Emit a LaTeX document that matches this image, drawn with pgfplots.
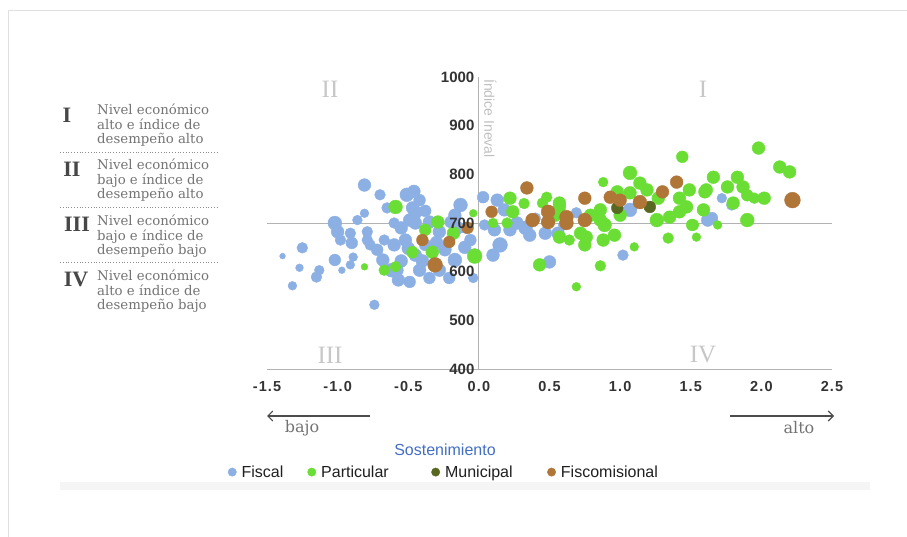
\documentclass[border=0pt]{standalone}
\usepackage{fontspec}
\setmainfont{Liberation Sans}
\newfontfamily\slab{DejaVu Serif}
\newfontfamily\tserif{Liberation Serif}
\newfontfamily\tickfont[LetterSpace=8]{Liberation Sans}
\usepackage{pgfplots}
\usepackage{pgfplotstable}
\pgfplotsset{compat=1.18}
\usetikzlibrary{arrows.meta}
\definecolor{fiscal}{RGB}{140,176,228}
\definecolor{particular}{RGB}{106,222,52}
\definecolor{municipal}{RGB}{88,104,32}
\definecolor{fiscom}{RGB}{176,118,56}
\definecolor{sostblue}{RGB}{66,110,196}

\pgfplotstableread{
x y r
-1.39 632 2.5
-1.32 571 4
-1.27 608 3.5
-1.25 649 5
-1.13 603 4.5
-1.15 589 5
-1.02 624 5.5
-0.89 630 4
-0.91 614 4
-0.97 603 3
-1.02 700 6.5
-1.00 682 6
-0.91 679 5
-0.79 682 5
-0.98 665 5
-0.90 659 5.5
-0.79 665 5
-0.81 778 6
-0.81 720 4
-0.86 706 4.5
-0.70 758 5
-0.65 731 5
-0.74 532 4.5
-0.72 645 5.5
-0.68 624 6
-0.58 603 6
-0.51 758 6.5
-0.47 731 6
-0.49 706 6
-0.42 747 5.5
-0.52 665 6
-0.45 634 6
-0.42 603 6
-0.38 655 5.5
-0.60 655 6
-0.67 665 5
-0.77 655 5
-0.62 603 6.5
-0.57 583 6
-0.49 579 5.5
-0.28 682 6
-0.24 645 6
-0.17 716 6
-0.13 737 6.5
-0.17 624 6.5
-0.21 587 5.5
-0.06 665 5.5
-0.10 690 5
-0.03 634 6
-0.28 603 6
-0.35 587 5.5
-0.04 587 4.5
-0.55 690 6
-0.45 700 6
-0.45 722 6.5
-0.35 702 6
-0.30 660 6
-0.40 622 6
-0.50 648 6
-0.15 690 6
-0.10 650 6
-0.20 702 5.5
-0.55 622 6
-0.60 700 5
-0.46 765 6
-0.38 725 5.5
0.03 753 5.5
0.13 747 6
0.18 727 6
0.04 696 5
0.11 686 6
0.22 686 6
0.33 690 6.5
0.36 675 6
0.47 679 6
0.56 679 6
0.15 655 7
0.10 634 6
0.50 620 6
0.69 721 5
0.74 651 2.5
1.02 634 5
1.07 727 6.5
1.62 706 6
1.72 751 4.5
1.79 737 5
1.65 710 5.5
0.40 710 5
0.27 700 6
0.60 696 5
}\fiscaldata

\pgfplotstableread{
x y r
-0.81 610 3
-0.67 603 5
-0.59 610 5
-0.59 733 6.5
-0.47 640 5.5
-0.38 686 5.5
-0.29 702 6
-0.33 640 6
-0.18 679 6
-0.03 632 7
-0.04 720 3.5
0.22 751 6
0.24 723 6
0.20 700 5
0.32 740 5
0.10 700 4.5
0.45 741 5
0.48 753 5
0.57 741 6
0.57 733 6
0.57 671 6
0.72 679 6
0.76 671 6
0.43 614 6
0.69 569 4
0.79 716 6
0.89 696 6.5
0.96 675 6
0.75 655 6
1.00 716 6
0.64 665 5
0.54 716 6
0.86 727 6
0.86 706 6
0.88 665 6
0.86 612 5
0.88 784 4.5
0.98 764 6
1.07 803 6.5
1.07 762 6
1.14 782 6
1.19 768 6
1.27 751 6
1.42 751 6
1.44 836 5.5
1.49 768 6
1.61 768 6
1.26 706 6.5
1.35 712 6
1.42 723 6
1.47 733 6
1.51 696 5.5
1.54 671 4
1.34 669 5
1.10 651 4
1.98 854 6
2.13 815 6
2.20 805 6
1.66 794 6
1.83 794 6
1.87 774 6
1.76 774 6
1.60 764 6
1.90 757 5.5
2.02 751 6
1.95 751 5
1.59 727 6
1.80 741 6
1.90 706 6.5
1.52 696 5
1.69 696 4
}\particulardata

\pgfplotstableread{
x y r
0.98 731 5.5
1.21 733 5.5
}\municipaldata

\pgfplotstableread{
x y r
-0.40 665 5.5
-0.31 614 7
-0.21 661 5.5
-0.08 690 5.5
0.09 723 5.5
0.34 772 6
0.38 706 6.5
0.49 723 6.5
0.49 702 6.5
0.62 712 6.5
0.62 700 6.5
0.75 751 6
0.75 706 6.5
0.93 753 6
1.00 747 6
1.14 743 6.5
1.30 764 6
1.40 784 6
2.22 747 7.5
}\fiscomdata

\pgfplotsset{
  bubble/.style={scatter, only marks, mark=*,
    scatter/use mapped color={draw=#1, fill=#1},
    mark options={draw=#1, fill=#1},
    visualization depends on={(\thisrow{r}+0.4)\as\rad},
    scatter/@pre marker code/.append style={/tikz/mark size=\rad},
    legend image code/.code={\fill[#1] (4.5pt,0pt) circle (4.2pt);}},
  baseaxis/.style={
    at={(267pt,-369pt)}, anchor=south west,
    width=565pt, height=292pt, scale only axis,
    xmin=-1.5, xmax=2.5, ymin=400, ymax=1000,
    axis x line*=bottom, axis y line*=middle,
    hide obscured x ticks=false, hide obscured y ticks=false,
    xtick={-1.5,-1,-0.5,0,0.5,1,1.5,2,2.5},
    ytick={400,500,600,700,800,900,1000},
    major tick length=0pt,
    scaled x ticks=false, scaled y ticks=false,
    /pgf/number format/assume math mode=true,
    /pgf/number format/1000 sep={},
    xticklabel={\pgfmathprintnumber[fixed,fixed zerofill,precision=1]{\tick}},
    xticklabel style={font=\tickfont\bfseries\fontsize{14.5}{15}\selectfont, text=black!80, yshift=-9pt},
    yticklabel style={font=\bfseries\fontsize{15}{15}\selectfont, text=black!80, xshift=-1pt},
    clip=false},
}

\begin{document}
\begin{tikzpicture}
\path[use as bounding box] (0pt,0pt) rectangle (907pt,-537pt);
\begin{scope}[x=1pt,y=-1pt]
  \draw[black!12, line width=0.8pt] (8,537) -- (8,10) -- (907,10);
  \fill[black!4] (60,482) rectangle (870,490);
\end{scope}
\begin{axis}[baseaxis,
  axis line style={draw=black!30, line width=0.9pt},
  xticklabel style={opacity=0}, yticklabel style={opacity=0},
  legend columns=4,
  legend style={at={(-0.0697,-0.353)}, anchor=west, draw=none, fill=none,
    font=\fontsize{16}{16}\selectfont, text=black!88,
    /tikz/column 1/.style={column sep=3pt},
    /tikz/column 3/.style={column sep=3pt},
    /tikz/column 5/.style={column sep=3pt},
    /tikz/column 7/.style={column sep=3pt},
    /tikz/column 2/.style={column sep=22pt},
    /tikz/column 4/.style={column sep=40.5pt},
    /tikz/column 6/.style={column sep=32.5pt},
    inner sep=0pt},
]
\addplot[black!30, line width=0.9pt, forget plot] coordinates {(-1.5,700) (2.5,700)};
\addplot[bubble=fiscal] table[x=x,y=y]{\fiscaldata};
\addlegendentry{Fiscal}
\addplot[bubble=particular] table[x=x,y=y]{\particulardata};
\addlegendentry{Particular}
\addplot[bubble=municipal] table[x=x,y=y]{\municipaldata};
\addlegendentry{Municipal}
\addplot[bubble=fiscom] table[x=x,y=y]{\fiscomdata};
\addlegendentry{Fiscomisional}
\end{axis}
\begin{axis}[baseaxis, axis line style={draw=none}]
\end{axis}
\begin{scope}[x=1pt,y=-1pt]
  % quadrant labels
  \node[font=\tserif\fontsize{25}{25}\selectfont, text=black!22] at (330,89) {II};
  \node[font=\tserif\fontsize{25}{25}\selectfont, text=black!22] at (703,89) {I};
  \node[font=\tserif\fontsize{25}{25}\selectfont, text=black!22] at (330,355) {III};
  \node[font=\tserif\fontsize{25}{25}\selectfont, text=black!22] at (703,355) {IV};
  % axis title
  \node[rotate=-90, anchor=south west, font=\fontsize{14}{14}\selectfont, text=black!25, inner sep=1pt] at (483,78) {Índice Ineval};
  % arrows
  \draw[black!70, line width=1.1pt, -{Straight Barb[length=5pt,width=10pt]}] (370,416) -- (267,416);
  \draw[black!70, line width=1.1pt, -{Straight Barb[length=5pt,width=10pt]}] (730,416) -- (834,416);
  \node[font=\slab\fontsize{16}{16}\selectfont, text=black!55] at (302,428) {bajo};
  \node[font=\slab\fontsize{16}{16}\selectfont, text=black!55] at (799,428) {alto};
  \node[font=\fontsize{16}{16}\selectfont, text=sostblue] at (445,450) {Sostenimiento};
  % left key
  \foreach \yy in {152,207,262} {\draw[black!45, dotted, line width=0.8pt] (60,\yy) -- (218,\yy);}
  \node[font=\tserif\bfseries\fontsize{22}{22}\selectfont, text=black!72] at (67,115) {I};
  \node[font=\tserif\bfseries\fontsize{22}{22}\selectfont, text=black!72] at (72,169) {II};
  \node[font=\tserif\bfseries\fontsize{22}{22}\selectfont, text=black!72] at (77,224) {III};
  \node[font=\tserif\bfseries\fontsize{22}{22}\selectfont, text=black!72] at (76,279) {IV};
  \foreach \yy/\ta/\tc in {104/alto/{desempeño alto},159/bajo/{desempeño alto},215/bajo/{desempeño bajo},270/alto/{desempeño bajo}} {
    \node[anchor=north west, inner sep=0pt, align=left, font=\slab\fontsize{13.3}{14.2}\selectfont, text=black!55] at (97,\yy) {Nivel económico\\\ta{} e índice de\\\tc};
  }
\end{scope}
\end{tikzpicture}
\end{document}
